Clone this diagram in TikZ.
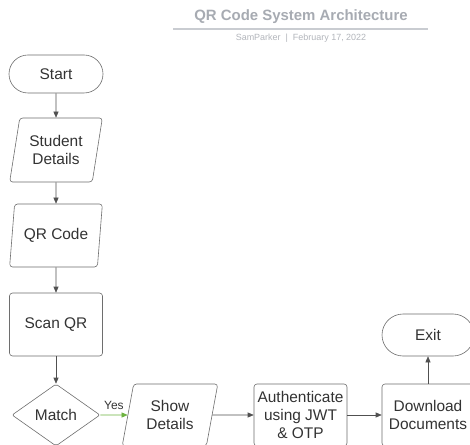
\documentclass[tikz,border=0pt]{standalone}
\usepackage{fontspec}
\setmainfont{Liberation Sans}
\usetikzlibrary{shapes.geometric,arrows.meta}
\definecolor{edgec}{HTML}{6E6E6E}
\definecolor{txtc}{HTML}{333333}
\definecolor{arrowc}{HTML}{505050}
\definecolor{yesgreen}{HTML}{6DB33F}
\definecolor{titlec}{HTML}{A7ABB2}
\definecolor{rulec}{HTML}{C9CCD1}
\definecolor{subc}{HTML}{B3B6BC}
\begin{document}
\begin{tikzpicture}[x=1bp,y=-1bp,
 box/.style={draw=edgec, line width=0.6bp, text=txtc, font=\fontsize{15.5}{18.5}\selectfont, align=center, inner sep=0pt, rounded corners=3bp},
 proc/.style={box, rectangle, minimum width=93bp, minimum height=63bp},
 term/.style={box, rectangle, rounded corners=19bp, minimum width=94bp, minimum height=38bp},
 io/.style={box, trapezium, trapezium left angle=76, trapezium right angle=104, trapezium stretches=true, minimum width=93bp, minimum height=64bp},
 dec/.style={box, diamond, minimum width=88bp, minimum height=62bp, rounded corners=2bp},
 arr/.style={draw=arrowc, line width=0.6bp, -{Triangle[length=6bp,width=5bp]}}]
\useasboundingbox (0,0) rectangle (470,445);
\fill[white] (0,0) rectangle (470,445);
\clip (0,0) rectangle (470,445);

% title block
\node[font=\bfseries\fontsize{15}{18}\selectfont, text=titlec] (title) at (301,17) {QR Code System Architecture};
\draw[rulec, line width=2bp] (173,29) -- (428,29);
\node[font=\fontsize{9}{11}\selectfont, text=subc] (sub) at (301,38) {SamParker \ | \ February 17, 2022};

% nodes
\node[term] (start) at (56,74) {Start};
\node[io] (student) at (56,150) {Student\\Details};
\node[io, minimum height=63bp, inner xsep=-3bp] (qr) at (56,235.5) {QR Code};
\node[proc] (scan) at (56,324.5) {Scan QR};
\node[dec] (match) at (56,415) {Match};
\node[io, minimum width=96bp, minimum height=62bp] (show) at (170,415) {Show\\Details};
\node[proc, minimum height=62bp] (auth) at (300.5,415) {Authenticate\\using JWT\\\& OTP};
\node[proc, minimum width=92bp, minimum height=62bp] (down) at (428,415) {Download\\Documents};
\node[term, minimum width=92bp, minimum height=42bp, rounded corners=21bp] (exit) at (428,335) {Exit};

% connectors
\draw[arr] (start.south) -- (student.north);
\draw[arr] (student.south) -- (qr.north);
\draw[arr] (qr.south) -- (scan.north);
\draw[arr] (scan.south) -- (match.north);
\draw[arr, draw=yesgreen] (match.east) -- node[above=2bp, font=\fontsize{12}{14}\selectfont, text=txtc] (yes) {Yes} (show.west);
\draw[arr] (show.east) -- (auth.west);
\draw[arr] (auth.east) -- (down.west);
\draw[arr] (down.north) -- (exit.south);
\end{tikzpicture}
\end{document}
